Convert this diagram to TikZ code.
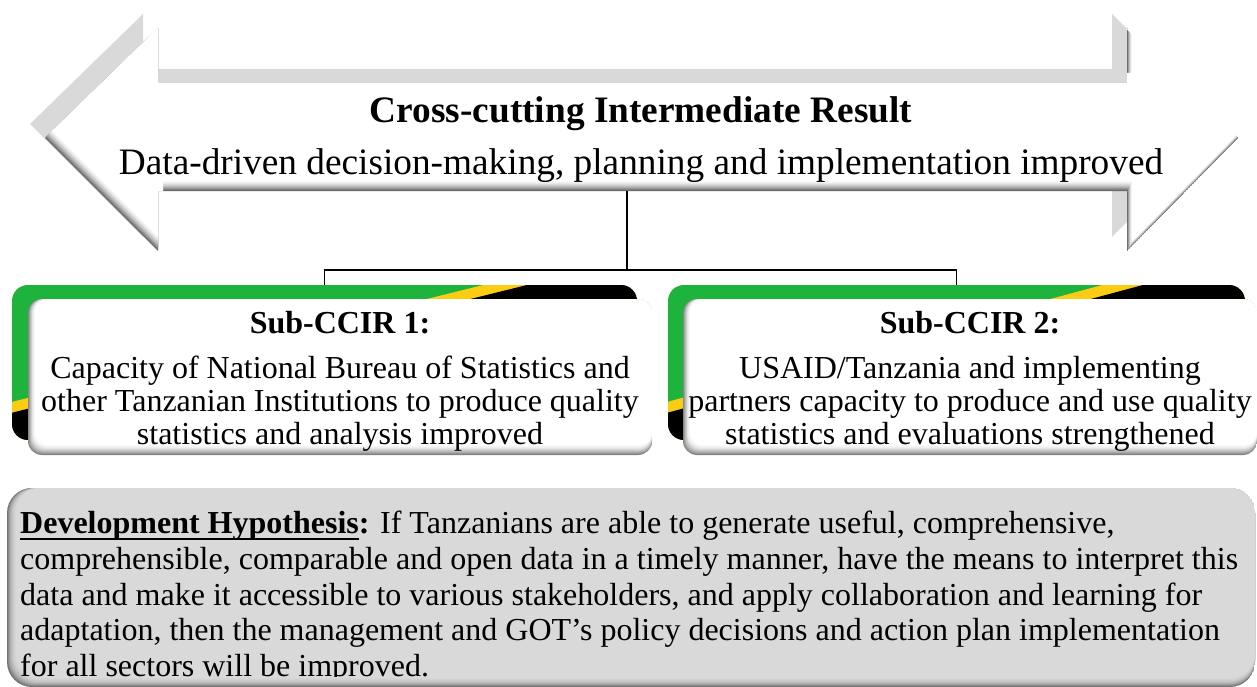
\documentclass[tikz,border=0pt]{standalone}
\usepackage{fontspec}
\setmainfont{Liberation Serif}
\usetikzlibrary{calc}
\definecolor{tzgreen}{RGB}{30,179,60}
\definecolor{tzyellow}{RGB}{250,205,20}
\tikzset{
%%%%%%%%%%  Text styles
ccir/.style={anchor=base, inner sep=0pt, font=\fontsize{37.3}{40}\selectfont\bfseries},
goal/.style={anchor=base, inner sep=0pt, font=\fontsize{37.3}{40}\selectfont},
%%%%%%%%%%  Box styles
flagbox/.style={minimum width=#1, minimum height=155pt, inner sep=0pt,
                rounded corners=16pt,
                path picture={
                  \coordinate (sw) at (path picture bounding box.south west);
                  \coordinate (ne) at (path picture bounding box.north east);
                  \fill[tzgreen] (sw) rectangle (ne);
                  \draw[tzyellow, line width=74pt] ($(sw)!-0.2!(ne)$) -- ($(ne)!-0.2!(sw)$);
                  \draw[black, line width=53pt] ($(sw)!-0.2!(ne)$) -- ($(ne)!-0.2!(sw)$);
                }},
whitebox/.style={minimum width=#1, minimum height=156pt, inner sep=0pt,
                 rounded corners=14pt, align=center,
                 font=\fontsize{32}{33}\selectfont,
                 path picture={
                   \foreach \k/\c in {0/50,1/42,2/35,3/28,4/22,5/16,6/11,7/7,8/4,9/2,10/0}
                     \fill[black!\c, rounded corners=13pt]
                       ([shift={(0.7*\k pt,\k pt)}]path picture bounding box.south west)
                       rectangle (path picture bounding box.north east);
                 }},
%%%%%%%%%%  Line styles
link/.style={line width=1.3pt, draw=black}
}
\newcommand{\twoway}{(45,138) -- (158,28) -- (158,83) -- (1127,83) -- (1127,28)
  -- (1238,138) -- (1127,251) -- (1127,191) -- (158,191) -- (158,251) -- cycle}
\newcommand{\subhead}[1]{{\fontsize{32}{33}\selectfont\bfseries\rule{0pt}{31pt}#1}\\[12pt]}
\newcommand{\thickul}[1]{\setbox0\hbox{#1}\rlap{\rule[-6.5pt]{\wd0}{2.6pt}}\box0}

\begin{document}
\begin{tikzpicture}[x=1pt, y=-1pt]
\useasboundingbox (0,0) rectangle (1257,687);
%%%% two-way arrow
\fill[black!15, shift={(-15,-14)}] \twoway;
\begin{scope}
\clip \twoway;
\foreach \k/\c in {0/60,1/50,2/41,3/33,4/26,5/20,6/14,7/9,8/5,9/2,10/0}
  \fill[black!\c, shift={(0.5*\k,-\k)}] \twoway;
\end{scope}
\draw[white, line width=3.5pt] (1128,28) -- (1235,134);
\node[ccir] (ccir) at (641,123) {Cross-cutting Intermediate Result};
\node[goal] (goal) at (641,175) {Data-driven decision-making, planning and implementation improved};
%%%% connectors
\coordinate (stem) at (627,191);
\coordinate (fork) at (627,270);
\node[flagbox=625pt] (flag1) at (324.5,362.5) {};
\node[flagbox=577pt] (flag2) at (956.5,362.5) {};
\draw[link] (stem) -- (fork);
\draw[link] (flag1.north) |- (fork) -| (flag2.north);
\node[whitebox=624pt] (sub1) at (340,377) {\subhead{Sub-CCIR 1:}
  Capacity of National Bureau of Statistics and\\
  other Tanzanian Institutions to produce quality\\
  statistics and analysis improved};
\node[whitebox=574pt] (sub2) at (970,377) {\subhead{Sub-CCIR 2:}
  USAID/Tanzania and implementing\\
  partners capacity to produce and use quality\\
  statistics and evaluations strengthened};
%%%% development hypothesis
\begin{scope}
\clip[rounded corners=25pt] (7,488) rectangle (1255,687);
\foreach \k/\c in {0/55,1/46,2/38,3/32,4/27,5/23,6/20,7/18,8/16,9/15}
  \fill[black!\c, rounded corners=25pt] (7+\k,488) rectangle (1255,687-\k);
\clip (7,488) rectangle (1255,676);
\node[anchor=north west, inner sep=0pt, align=left,
      font=\fontsize{32}{35.7}\selectfont] (hypo) at (20,511)
  {\textbf{\thickul{Development Hypothesis}:} If Tanzanians are able to generate useful, comprehensive,\\
   comprehensible, comparable and open data in a timely manner, have the means to interpret this\\
   data and make it accessible to various stakeholders, and apply collaboration and learning for\\
   adaptation, then the management and GOT’s policy decisions and action plan implementation\\
   for all sectors will be improved.};
\end{scope}
\end{tikzpicture}
\end{document}
